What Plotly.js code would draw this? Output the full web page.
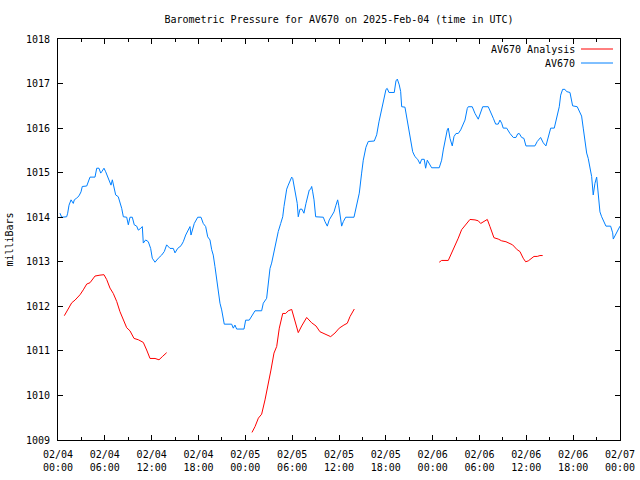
<!DOCTYPE html>
<html>
<head>
<meta charset="utf-8">
<script src="https://cdn.plot.ly/plotly-3.0.1.min.js"></script>
<style>html,body{margin:0;padding:0;background:#fff;}#chart{width:640px;height:480px;}</style>
</head>
<body>
<div id="chart"></div>
<script>
// Hours since 2025-02-04 00:00 UTC and pressure (milliBars)
const stationHours = [0.26,0.47,1.11,1.24,1.41,1.67,1.96,2.09,2.40,2.69,2.95,3.11,3.68,3.88,4.10,4.74,4.96,5.25,5.47,5.60,5.89,6.11,6.37,6.57,6.79,6.96,7.21,7.39,7.72,7.94,8.16,8.37,8.80,9.01,9.22,9.52,9.77,10.08,10.29,10.59,10.80,10.93,11.23,11.57,11.87,12.08,12.43,12.85,13.28,13.62,13.92,14.35,14.77,14.99,15.33,15.76,16.05,16.36,16.69,16.91,17.04,17.20,17.46,17.90,18.32,18.61,18.92,19.18,19.47,19.69,19.89,20.11,20.33,20.53,20.75,20.97,21.17,21.30,22.25,22.46,22.67,22.89,23.83,24.04,24.50,24.81,25.24,26.09,26.30,26.73,26.94,27.16,27.37,27.67,27.93,28.22,28.53,28.79,28.95,29.08,29.30,29.50,29.72,29.94,30.07,30.23,30.45,30.65,30.78,31.00,31.26,31.51,31.77,31.94,32.19,32.37,32.50,32.63,32.80,33.01,33.99,34.21,34.50,34.75,35.06,35.36,35.61,35.83,35.96,36.12,36.34,36.55,36.86,37.92,38.17,38.39,38.60,38.90,39.11,39.45,39.75,40.52,40.83,41.12,41.47,41.76,42.02,42.18,42.40,43.08,43.30,43.47,43.72,43.90,44.03,44.45,44.75,45.00,45.22,45.44,45.73,46.08,46.37,46.59,46.92,47.10,47.31,47.56,47.87,48.84,49.15,49.36,49.57,49.87,50.00,50.22,50.51,50.73,50.99,51.28,51.59,51.92,52.14,52.43,52.56,53.07,53.42,53.84,54.15,54.41,55.12,55.43,55.77,56.07,56.40,56.62,56.84,57.04,57.48,57.90,58.33,58.67,58.89,59.09,59.40,59.69,59.95,61.10,61.40,61.83,62.17,62.51,62.81,63.12,63.58,63.89,64.22,64.40,64.65,64.94,65.16,65.59,65.93,66.52,66.78,67.08,67.29,67.51,67.73,67.93,68.15,68.37,68.57,68.79,69.01,69.21,69.43,69.65,69.94,70.20,70.80,71.06,71.14,71.49,71.78,72.00];
const stationPressure = [1014.09,1014.00,1014.01,1014.09,1014.27,1014.39,1014.31,1014.39,1014.43,1014.48,1014.57,1014.69,1014.70,1014.80,1014.90,1014.90,1015.10,1015.10,1014.99,1015.02,1015.10,1015.02,1014.91,1014.84,1014.72,1014.84,1014.61,1014.50,1014.46,1014.35,1014.20,1014.01,1014.00,1013.83,1014.00,1014.00,1013.83,1013.80,1013.71,1013.75,1013.79,1013.42,1013.49,1013.45,1013.30,1013.08,1012.99,1013.08,1013.15,1013.23,1013.38,1013.30,1013.30,1013.20,1013.30,1013.36,1013.45,1013.60,1013.73,1013.79,1013.60,1013.71,1013.86,1014.00,1014.00,1013.86,1013.79,1013.56,1013.49,1013.27,1013.15,1012.89,1012.59,1012.37,1012.07,1011.92,1011.73,1011.60,1011.60,1011.51,1011.58,1011.49,1011.49,1011.69,1011.69,1011.78,1011.90,1011.90,1012.07,1012.18,1012.59,1012.85,1012.97,1013.23,1013.49,1013.68,1013.86,1014.01,1014.24,1014.39,1014.63,1014.72,1014.80,1014.90,1014.87,1014.72,1014.54,1014.31,1014.01,1014.18,1014.18,1014.09,1014.31,1014.46,1014.61,1014.63,1014.69,1014.57,1014.39,1014.01,1014.00,1013.90,1013.80,1013.94,1014.03,1014.12,1014.27,1014.39,1014.27,1014.01,1013.80,1013.90,1014.00,1014.00,1014.20,1014.39,1014.54,1014.99,1015.28,1015.57,1015.70,1015.71,1015.85,1016.14,1016.44,1016.67,1016.87,1016.89,1016.80,1016.80,1017.06,1017.10,1016.97,1016.82,1016.48,1016.47,1016.14,1015.85,1015.62,1015.47,1015.36,1015.30,1015.20,1015.30,1015.30,1015.10,1015.28,1015.21,1015.11,1015.11,1015.28,1015.51,1015.70,1015.96,1016.00,1015.77,1015.60,1015.81,1015.88,1015.88,1015.96,1016.11,1016.18,1016.44,1016.48,1016.48,1016.33,1016.20,1016.37,1016.48,1016.48,1016.37,1016.22,1016.09,1016.09,1016.18,1016.11,1016.00,1016.00,1015.88,1015.79,1015.79,1015.87,1015.88,1015.79,1015.77,1015.60,1015.60,1015.70,1015.79,1015.67,1015.60,1015.81,1016.00,1016.00,1016.22,1016.48,1016.74,1016.87,1016.87,1016.82,1016.80,1016.50,1016.48,1016.37,1016.27,1016.00,1015.73,1015.44,1015.32,1015.15,1014.91,1014.50,1014.76,1014.90,1014.54,1014.12,1014.01,1013.90,1013.80,1013.80,1013.65,1013.51,1013.64,1013.75,1013.80];

// Analysis: three separate runs, null marks a gap
const analysisHours = [0.81,1.24,1.76,2.18,2.82,3.24,3.68,4.10,4.74,5.38,5.89,6.24,6.66,7.08,7.52,7.94,8.37,8.80,9.22,9.74,10.29,10.93,11.36,11.79,12.43,12.94,13.36,13.92,
  18.0,
  24.85,25.24,25.67,26.09,26.52,26.94,27.28,27.67,28.02,28.35,28.79,29.17,29.50,29.94,30.36,30.78,31.22,31.86,32.50,33.05,33.56,34.20,34.93,35.48,36.03,36.63,37.06,37.41,37.96,
  43.0,
  48.84,49.15,50.00,50.44,50.86,51.28,51.71,52.27,52.78,53.42,53.84,54.15,54.48,55.00,55.34,55.85,56.40,56.84,57.39,57.90,58.24,58.83,59.18,59.60,59.91,60.25,60.59,60.98,61.40,61.75,62.09];
const analysisPressure = [1011.79,1011.92,1012.08,1012.14,1012.26,1012.37,1012.50,1012.53,1012.68,1012.70,1012.71,1012.60,1012.41,1012.29,1012.11,1011.88,1011.69,1011.52,1011.45,1011.28,1011.25,1011.19,1011.02,1010.83,1010.83,1010.80,1010.87,1010.96,
  null,
  1009.17,1009.30,1009.49,1009.58,1009.90,1010.24,1010.57,1010.95,1011.10,1011.51,1011.84,1011.84,1011.90,1011.93,1011.66,1011.41,1011.56,1011.75,1011.63,1011.56,1011.43,1011.38,1011.32,1011.40,1011.51,1011.58,1011.62,1011.77,1011.94,
  null,
  1012.99,1013.03,1013.03,1013.19,1013.38,1013.53,1013.72,1013.85,1013.95,1013.94,1013.92,1013.86,1013.90,1013.95,1013.79,1013.54,1013.51,1013.47,1013.45,1013.40,1013.38,1013.27,1013.23,1013.08,1013.00,1013.02,1013.06,1013.12,1013.12,1013.14,1013.14];

const seriesNames = ["AV670 Analysis", "AV670"];
const seriesColors = ["#ff0000", "#0080ff"];
const startMs = Date.UTC(2025, 1, 4, 0, 0, 0);

function pad(n){ return (n < 10 ? "0" : "") + n; }
function toDate(h){
  const d = new Date(startMs + Math.round(h * 3600000));
  return d.getUTCFullYear() + "-" + pad(d.getUTCMonth()+1) + "-" + pad(d.getUTCDate()) + " " +
         pad(d.getUTCHours()) + ":" + pad(d.getUTCMinutes()) + ":" + pad(d.getUTCSeconds());
}

const font = {family: "DejaVu Sans Mono, Liberation Mono, monospace", size: 10, color: "#000"};

const traces = [
  {x: analysisHours.map(toDate), y: analysisPressure, type: "scatter", mode: "lines",
   name: seriesNames[0], connectgaps: false, line: {color: seriesColors[0], width: 1}, hoverinfo: "skip"},
  {x: stationHours.map(toDate), y: stationPressure, type: "scatter", mode: "lines",
   name: seriesNames[1], line: {color: seriesColors[1], width: 1}, hoverinfo: "skip"}
];

const layout = {
  width: 640, height: 480,
  margin: {l: 58, r: 20, t: 39, b: 40, pad: 0},
  paper_bgcolor: "#fff", plot_bgcolor: "#fff",
  font: font,
  showlegend: false,
  title: {text: "Barometric Pressure for AV670 on 2025-Feb-04 (time in UTC)", font: font,
          x: 0.5, xref: "paper", xanchor: "center", y: 1 - 19/480, yref: "container", yanchor: "middle"},
  xaxis: {
    type: "date",
    range: [toDate(0), toDate(72)],
    tick0: toDate(0), dtick: 6 * 3600000,
    tickformat: "%m/%d<br>%H:%M",
    ticks: "inside", ticklen: 5, tickwidth: 1, tickcolor: "#000",
    ticklabelstandoff: 5,
    minor: {dtick: 3 * 3600000, ticks: "inside", ticklen: 3, tickwidth: 1, tickcolor: "#000"},
    showline: true, linecolor: "#000", linewidth: 1, mirror: "ticks",
    showgrid: false, zeroline: false, fixedrange: true, tickfont: font
  },
  yaxis: {
    range: [1009, 1018], dtick: 1, tick0: 1009,
    tickformat: "d",
    ticks: "inside", ticklen: 5, tickwidth: 1, tickcolor: "#000",
    ticklabelstandoff: 5,
    showline: true, linecolor: "#000", linewidth: 1, mirror: "ticks",
    showgrid: false, zeroline: false, fixedrange: true, tickfont: font,
    title: {text: "milliBars", font: font, standoff: 10}
  },
  annotations: [
    {xref: "paper", yref: "paper", x: 519/562, y: 1 - (49-39)/401, xanchor: "right", yanchor: "middle",
     text: seriesNames[0], showarrow: false, font: font},
    {xref: "paper", yref: "paper", x: 519/562, y: 1 - (63-39)/401, xanchor: "right", yanchor: "middle",
     text: seriesNames[1], showarrow: false, font: font}
  ],
  shapes: [
    {type: "line", xref: "paper", yref: "paper", x0: 523/562, x1: 555/562, y0: 1 - (49-39)/401, y1: 1 - (49-39)/401,
     line: {color: seriesColors[0], width: 1}},
    {type: "line", xref: "paper", yref: "paper", x0: 523/562, x1: 555/562, y0: 1 - (63-39)/401, y1: 1 - (63-39)/401,
     line: {color: seriesColors[1], width: 1}}
  ]
};

Plotly.newPlot("chart", traces, layout, {staticPlot: true, displayModeBar: false});
</script>
</body>
</html>
